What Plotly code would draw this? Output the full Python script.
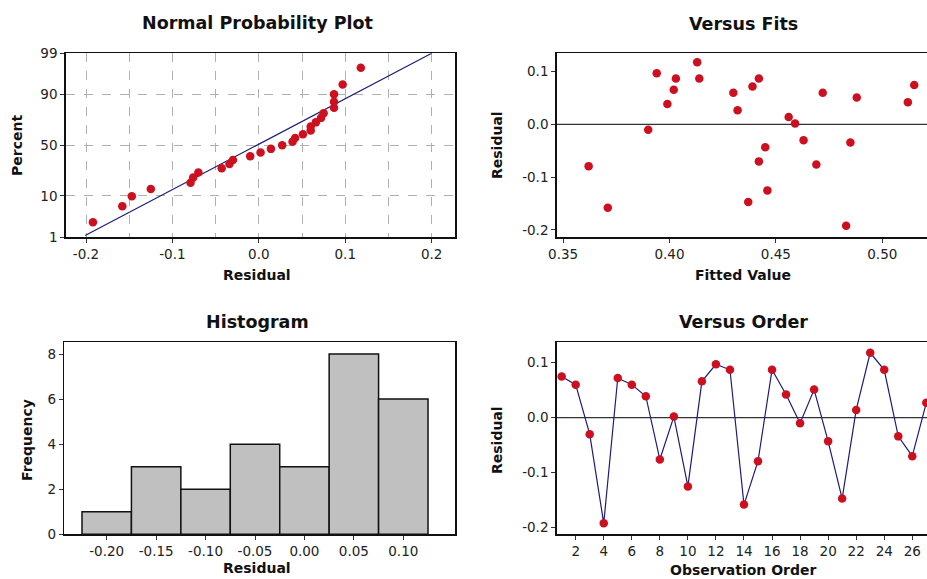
import plotly.graph_objects as go
from statistics import NormalDist

# ---------------- data ----------------
obs_order = list(range(1, 28))
residuals = [0.075, 0.060, -0.030, -0.192, 0.072, 0.060, 0.039, -0.076, 0.002, -0.125,
             0.066, 0.097, 0.087, -0.158, -0.079, 0.087, 0.042, -0.010, 0.051, -0.043,
             -0.147, 0.014, 0.118, 0.087, -0.034, -0.070, 0.027]

# Versus Fits (fitted value, residual)
fitted_vals = [0.362, 0.371, 0.390, 0.394, 0.399, 0.402, 0.403, 0.413, 0.414, 0.430,
               0.432, 0.437, 0.439, 0.442, 0.442, 0.445, 0.446, 0.456, 0.459, 0.463,
               0.469, 0.472, 0.483, 0.485, 0.488, 0.512, 0.515]
fit_resid = [-0.079, -0.158, -0.010, 0.097, 0.039, 0.066, 0.087, 0.118, 0.087, 0.060,
             0.027, -0.147, 0.072, 0.087, -0.070, -0.043, -0.125, 0.014, 0.002, -0.030,
             -0.076, 0.060, -0.192, -0.034, 0.051, 0.042, 0.075]

# Normal probability plot (sorted residual, percent)
npp_resid = [-0.192, -0.158, -0.147, -0.125, -0.079, -0.076, -0.070, -0.043, -0.034, -0.030,
             -0.010, 0.002, 0.014, 0.027, 0.039, 0.042, 0.051, 0.060, 0.060, 0.066,
             0.072, 0.075, 0.087, 0.087, 0.087, 0.097, 0.118]
npp_percent = [2.6, 6.2, 9.9, 13.5, 17.2, 20.8, 24.5, 28.1, 31.8, 35.4,
               39.1, 42.7, 46.4, 50.0, 53.7, 57.3, 61.0, 64.6, 68.3, 71.9,
               75.6, 79.2, 82.9, 86.5, 90.2, 93.8, 97.5]
npp_line_x = [-0.201, 0.2]
npp_line_percent = [1.13, 99.0]

# Histogram
hist_centers = [-0.20, -0.15, -0.10, -0.05, 0.00, 0.05, 0.10]
hist_counts = [1, 3, 2, 4, 3, 8, 6]

# tick labels
npp_pct_ticks = [1, 10, 50, 90, 99]
npp_pct_labels = ["1", "10", "50", "90", "99"]
npp_x_ticks = [-0.2, -0.1, 0.0, 0.1, 0.2]
npp_x_labels = ["-0.2", "-0.1", "0.0", "0.1", "0.2"]
npp_x_minor = [-0.15, -0.05, 0.05, 0.15]
resid_y_ticks = [0.1, 0.0, -0.1, -0.2]
resid_y_labels = ["0.1", "0.0", "-0.1", "-0.2"]
fits_x_ticks = [0.35, 0.40, 0.45, 0.50]
fits_x_labels = ["0.35", "0.40", "0.45", "0.50"]
hist_x_labels = ["-0.20", "-0.15", "-0.10", "-0.05", "0.00", "0.05", "0.10"]
hist_y_ticks = [0, 2, 4, 6, 8]
order_x_ticks = list(range(2, 27, 2))

# ---------------- styling ----------------
W, H = 927, 579
FONT = "DejaVu Sans"
RED = "#cc1020"
NAVY = "#1c1c7a"
TICKC = "#222222"
GRID = "#b0b0b0"
MS = 8.5

def px(x):
    return x / W

def py(y):
    return 1 - y / H

nd = NormalDist()
def z(p):
    return nd.inv_cdf(p / 100.0)

fig = go.Figure()

# Normal probability plot
fig.add_trace(go.Scatter(x=npp_line_x, y=[z(p) for p in npp_line_percent], mode="lines",
                         line=dict(color=NAVY, width=1.2), xaxis="x", yaxis="y", showlegend=False))
fig.add_trace(go.Scatter(x=npp_resid, y=[z(p) for p in npp_percent], mode="markers",
                         marker=dict(color=RED, size=MS), xaxis="x", yaxis="y", showlegend=False))

# Versus fits
fig.add_trace(go.Scatter(x=fitted_vals, y=fit_resid, mode="markers",
                         marker=dict(color=RED, size=MS), xaxis="x2", yaxis="y2", showlegend=False))

# Histogram
fig.add_trace(go.Bar(x=hist_centers, y=hist_counts, width=0.05,
                     marker=dict(color="#c0c0c0", line=dict(color="#111111", width=1.5)),
                     xaxis="x3", yaxis="y3", showlegend=False))

# Versus order
fig.add_trace(go.Scatter(x=obs_order, y=residuals, mode="lines+markers",
                         line=dict(color=NAVY, width=1.2),
                         marker=dict(color=RED, size=MS), xaxis="x4", yaxis="y4", showlegend=False))

tickfont = dict(family=FONT, size=13.5, color=TICKC)

def axis(**kw):
    base = dict(showline=True, linecolor="#111111", linewidth=1.5, ticks="outside",
                ticklen=4, tickcolor="#333333", tickfont=tickfont, showgrid=False,
                zeroline=False, fixedrange=True, automargin=False)
    base.update(kw)
    return base

top_dom = [py(237.3), py(53.3)]
bot_dom = [py(534.3), py(342.3)]

fig.update_layout(
    width=W, height=H, margin=dict(l=0, r=0, t=0, b=0),
    paper_bgcolor="white", plot_bgcolor="white",
    font=dict(family=FONT, color="#111111"),
    bargap=0,
    xaxis=axis(domain=[px(65.7), px(455)], range=[-0.2235, 0.227],
               tickvals=npp_x_ticks, ticktext=npp_x_labels, mirror=True,
               showgrid=True, gridcolor=GRID, griddash="dash", gridwidth=1,
               minor=dict(tickvals=npp_x_minor, showgrid=True,
                          gridcolor=GRID, griddash="dash", ticks=""),
               anchor="y"),
    yaxis=axis(domain=top_dom, range=[z(1), z(99)],
               tickvals=[z(p) for p in npp_pct_ticks], ticktext=npp_pct_labels, mirror=True,
               showgrid=True, gridcolor=GRID, griddash="dash", gridwidth=1,
               anchor="x"),
    xaxis2=axis(domain=[px(556.7), 1.0], range=[0.347, 0.521],
                tickvals=fits_x_ticks, ticktext=fits_x_labels, mirror=True, anchor="y2"),
    yaxis2=axis(domain=top_dom, range=[-0.214, 0.135],
                tickvals=resid_y_ticks, ticktext=resid_y_labels, anchor="x2"),
    xaxis3=axis(domain=[px(64.3), px(455)], range=[-0.2429, 0.1523],
                tickvals=hist_centers, ticktext=hist_x_labels, mirror=True, anchor="y3"),
    yaxis3=axis(domain=bot_dom, range=[0, 8.52],
                tickvals=hist_y_ticks, mirror=True, anchor="x3"),
    xaxis4=axis(domain=[px(556.7), 1.0], range=[0.646, 27.05],
                tickvals=order_x_ticks, mirror=True, anchor="y4"),
    yaxis4=axis(domain=bot_dom, range=[-0.212, 0.137],
                tickvals=resid_y_ticks, ticktext=resid_y_labels, anchor="x4"),
)

# zero reference lines
for xa, ya in (("x2", "y2"), ("x4", "y4")):
    fig.add_shape(type="line", xref=f"{xa} domain", yref=ya, x0=0, x1=1, y0=0, y1=0,
                  line=dict(color="#333333", width=1.2), layer="below")

# titles and axis labels
def ann(text, x, y, size, bold=True, angle=0):
    fig.add_annotation(text=f"<b>{text}</b>" if bold else text, x=px(x), y=py(y),
                       xref="paper", yref="paper", showarrow=False, textangle=angle,
                       font=dict(family=FONT, size=size, color="#111111"),
                       xanchor="center", yanchor="middle")

TS = 17.5
AS = 14
ann("Normal Probability Plot", 257, 23, TS)
ann("Versus Fits", 743, 24, TS)
ann("Histogram", 257, 322, TS)
ann("Versus Order", 743, 322, TS)

ann("Residual", 257, 275, AS)
ann("Fitted Value", 743, 275, AS)
ann("Residual", 257, 568, AS)
ann("Observation Order", 743, 570, AS)

ann("Percent", 17, 146, AS, angle=-90)
ann("Residual", 497, 145, AS, angle=-90)
ann("Frequency", 27, 440, AS, angle=-90)
ann("Residual", 497, 440, AS, angle=-90)

fig.write_html(
    "out.html",
    config={"displayModeBar": False, "staticPlot": True},
    post_script="document.documentElement.style.overflow='hidden';"
                "document.body.style.margin='0';document.body.style.overflow='hidden';",
)
